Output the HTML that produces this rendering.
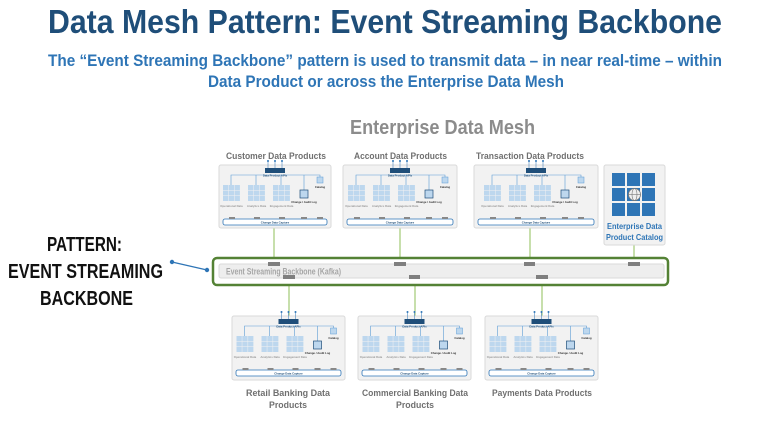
<!DOCTYPE html>
<html><head><meta charset="utf-8"><style>
body{margin:0;background:#fff;width:770px;height:433px;overflow:hidden}
svg{display:block}
text{font-family:"Liberation Sans",sans-serif;font-weight:bold}
</style></head><body>
<svg id="s" width="770" height="433" viewBox="0 0 770 433" xmlns="http://www.w3.org/2000/svg">
<text x="48" y="33" textLength="674" lengthAdjust="spacingAndGlyphs" font-size="33" fill="#1f4e79">Data Mesh Pattern: Event Streaming Backbone</text>
<text x="48" y="66" textLength="674" lengthAdjust="spacingAndGlyphs" font-size="17" fill="#2e75b6">The “Event Streaming Backbone” pattern is used to transmit data – in near real-time – within</text>
<text x="208" y="87" textLength="356" lengthAdjust="spacingAndGlyphs" font-size="17" fill="#2e75b6">Data Product or across the Enterprise Data Mesh</text>
<text x="350" y="134" textLength="185" lengthAdjust="spacingAndGlyphs" font-size="20" fill="#8c8c8c">Enterprise Data Mesh</text>
<text x="47" y="251" textLength="75" lengthAdjust="spacingAndGlyphs" font-size="20" fill="#111">PATTERN:</text>
<text x="8" y="278" textLength="155" lengthAdjust="spacingAndGlyphs" font-size="20" fill="#111">EVENT STREAMING</text>
<text x="40" y="305" textLength="93" lengthAdjust="spacingAndGlyphs" font-size="20" fill="#111">BACKBONE</text>
<line x1="172" y1="262" x2="207" y2="270" stroke="#2e75b6" stroke-width="1.2"/>
<circle cx="172" cy="262" r="2.2" fill="#2e75b6"/><circle cx="207" cy="270" r="2.2" fill="#2e75b6"/>
<g stroke="#8fbf5a" stroke-width="1">
<line x1="274" y1="228" x2="274" y2="263"/><line x1="400" y1="228" x2="400" y2="263"/>
<line x1="530" y1="228" x2="530" y2="263"/><line x1="634" y1="245" x2="634" y2="263"/>
<line x1="289" y1="279" x2="289" y2="316"/><line x1="415" y1="279" x2="415" y2="316"/><line x1="542" y1="279" x2="542" y2="316"/>
</g>
<rect x="213" y="258" width="455" height="27" rx="4" fill="#fff" stroke="#548235" stroke-width="2.5"/>
<rect x="219" y="264" width="445" height="14" rx="2" fill="#eeeeee" stroke="#d9d9d9"/>
<text x="226" y="274.5" textLength="115" lengthAdjust="spacingAndGlyphs" font-size="9" fill="#a6a6a6">Event Streaming Backbone (Kafka)</text>
<g fill="#7f7f7f">
<rect x="268" y="262" width="12" height="4"/><rect x="394" y="262" width="12" height="4"/><rect x="524" y="262" width="11" height="4"/><rect x="628" y="262" width="12" height="4"/>
<rect x="283" y="275" width="12" height="4"/><rect x="409" y="275" width="11" height="4"/><rect x="536" y="275" width="12" height="4"/>
</g>
<rect x="604" y="165" width="61" height="80" rx="2" fill="#f2f2f2" stroke="#d9d9d9"/>
<g id="cat"></g>
<text x="607" y="229" textLength="55" lengthAdjust="spacingAndGlyphs" font-size="8.5" fill="#2e75b6">Enterprise Data</text>
<text x="606" y="240" textLength="57" lengthAdjust="spacingAndGlyphs" font-size="8.5" fill="#2e75b6">Product Catalog</text>
<g id="cards"></g>
</svg>
<script>
var h="";
for(var r=0;r<3;r++)for(var c=0;c<3;c++)h+='<rect x="'+(612+c*15)+'" y="'+(173+r*15)+'" width="13" height="13" fill="#2e75b6"/>';
h+='<circle cx="634.5" cy="194.5" r="6" fill="#eee" stroke="#777" stroke-width="0.8"/><line x1="628.5" y1="194.5" x2="640.5" y2="194.5" stroke="#777" stroke-width="0.6"/><ellipse cx="634.5" cy="194.5" rx="2.5" ry="6" fill="none" stroke="#777" stroke-width="0.6"/>';
document.getElementById("cat").innerHTML=h;
function T(x,y,w,fs,fill,t){return '<text x="'+x+'" y="'+y+'" textLength="'+w+'" lengthAdjust="spacingAndGlyphs" font-size="'+fs+'" fill="'+fill+'">'+t+'</text>';}
function card(x,y,W,H,tl){
 var s='',k=(W-112)/2;
 for(var q=0;q<tl.length;q++)s+=T(tl[q][0],tl[q][1],tl[q][2],9,"#707070",tl[q][3]);
 s+='<rect x="'+x+'" y="'+y+'" width="'+W+'" height="'+H+'" rx="2" fill="#f2f2f2" stroke="#d9d9d9"/>';
 x+=k;
 s+='<g stroke="#5b9bd5" stroke-width="0.6" fill="none"><path d="M'+(x+12)+' '+(y+20)+'V'+(y+10)+'H'+(x+101)+'V'+(y+12)+'M'+(x+37)+' '+(y+10)+'V'+(y+20)+'M'+(x+62)+' '+(y+10)+'V'+(y+20)+'M'+(x+85)+' '+(y+10)+'V'+(y+25)+'"/></g>';
 s+='<rect x="'+(x+46)+'" y="'+(y+3)+'" width="20" height="5" fill="#1f4e79"/>';
 for(var i=0;i<3;i++)s+='<circle cx="'+(x+49+i*7)+'" cy="'+(y-4)+'" r="1" fill="#2e75b6"/><line x1="'+(x+49+i*7)+'" y1="'+(y-3)+'" x2="'+(x+49+i*7)+'" y2="'+(y+3)+'" stroke="#2e75b6" stroke-width="0.5"/>';
 s+='<text x="'+(x+56)+'" y="'+(y+11.5)+'" text-anchor="middle" font-size="2.8" fill="#1f4e79">Data Product APIs</text>';
 var gx=[x+4,x+29,x+54],lab=["Operational Data","Analytics Data","Engagement Data"];
 for(var g=0;g<3;g++){
  for(var r=0;r<3;r++)for(var c=0;c<3;c++)s+='<rect x="'+(gx[g]+c*5.8)+'" y="'+(y+20+r*5.5)+'" width="5.3" height="5" fill="#bdd7ee"/>';
  s+='<text x="'+(gx[g]+8.5)+'" y="'+(y+42)+'" text-anchor="middle" font-size="2.8" fill="#999">'+lab[g]+'</text>';
 }
 s+='<rect x="'+(x+81)+'" y="'+(y+25)+'" width="8" height="8" fill="#bdd7ee" stroke="#1f4e79" stroke-width="0.7"/>';
 s+='<text x="'+(x+85)+'" y="'+(y+38)+'" text-anchor="middle" font-size="2.8" fill="#333">Change / Audit Log</text>';
 s+='<rect x="'+(x+98)+'" y="'+(y+12)+'" width="6" height="6" fill="#bdd7ee" stroke="#5b9bd5" stroke-width="0.5"/>';
 s+='<text x="'+(x+101)+'" y="'+(y+23)+'" text-anchor="middle" font-size="2.8" fill="#333">Catalog</text>';
 s+='<rect x="'+(x+4-k)+'" y="'+(y+54)+'" width="'+(W-8)+'" height="6" rx="2" fill="#fff" stroke="#2e75b6" stroke-width="0.8"/>';
 s+='<text x="'+(x+56)+'" y="'+(y+58.3)+'" text-anchor="middle" font-size="2.8" fill="#1f4e79">Change Data Capture</text>';
 var px=[x+10,x+35,x+60,x+82,x+98];
 for(var p=0;p<5;p++)s+='<rect x="'+px[p]+'" y="'+(y+52)+'" width="6" height="2" fill="#888"/>';
 return s;
}
var c="";
c+=card(219,165,112,63,[[226,159,100,"Customer Data Products"]]);
c+=card(343,165,114,63,[[354,159,93,"Account Data Products"]]);
c+=card(474,165,124,63,[[476,159,108,"Transaction Data Products"]]);
c+=card(232,316,113,64,[[246,396,84,"Retail Banking Data"],[269,408,38,"Products"]]);
c+=card(358,316,113,64,[[362,396,106,"Commercial Banking Data"],[396,408,38,"Products"]]);
c+=card(485,316,113,64,[[492,396,100,"Payments Data Products"]]);
document.getElementById("cards").innerHTML=c;
</script>
</body></html>
